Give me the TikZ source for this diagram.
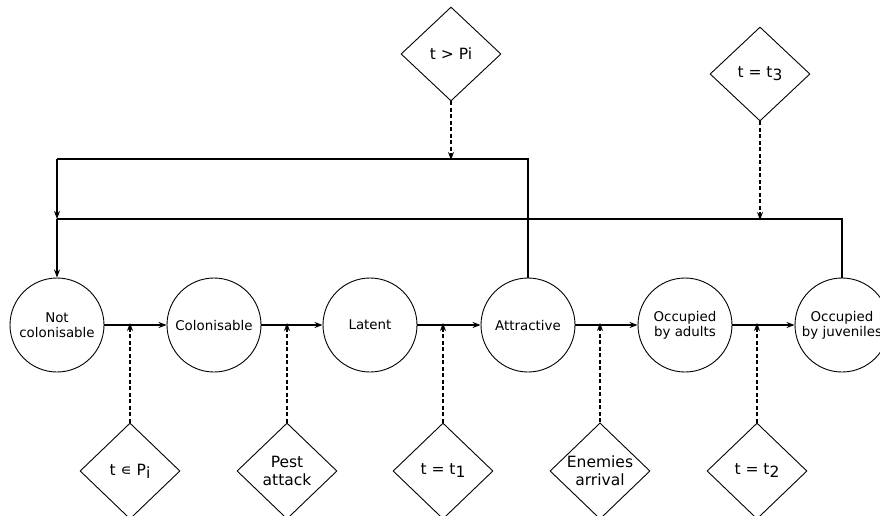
\documentclass[tikz,border=0pt]{standalone}
\usepackage{fontspec}
\setmainfont{DejaVu Sans}
\usetikzlibrary{shapes.geometric,arrows.meta}
\newcommand{\lowsub}[1]{\raisebox{-0.35ex}{#1}}
\begin{document}
\begin{tikzpicture}[x=1pt,y=-1pt,
  state/.style={circle,draw,line width=0.9pt,minimum size=94pt,inner sep=0pt,align=center,font=\fontsize{13.4}{15}\selectfont},
  cond/.style={diamond,draw,line width=0.9pt,minimum width=100pt,minimum height=96pt,inner sep=0pt,align=center,font=\fontsize{15.5}{18}\selectfont},
  flow/.style={line width=2pt,-{Stealth[length=8pt,width=6pt]}},
  line/.style={line width=2pt},
  trig/.style={line width=2.2pt,dash pattern=on 4pt off 2.5pt,-{Stealth[length=8pt,width=6pt]}}]
\useasboundingbox (0,0) rectangle (880,515);
\node[state] (c1) at (57,325) {Not\\colonisable};
\node[state] (c2) at (214,325) {Colonisable};
\node[state] (c3) at (370,325) {Latent};
\node[state] (c4) at (528,325) {Attractive};
\node[state] (c5) at (685,325) {Occupied\\by adults};
\node[state] (c6) at (842,325) {Occupied\\by juveniles};
\node[cond] (d1) at (130,471) {t ∊ P\lowsub{i}};
\node[cond] (d2) at (287,471) {Pest\\attack};
\node[cond] (d3) at (443,471) {t = t\lowsub{1}};
\node[cond] (d4) at (600,471) {Enemies\\arrival};
\node[cond] (d5) at (757,471) {t = t\lowsub{2}};
\node[cond,minimum height=94pt] (dp) at (451,54) {t > Pi};
\node[cond,minimum height=94pt] (dt) at (760,74) {t = t\lowsub{3}};
\draw[flow] (c1) -- (c2);
\draw[flow] (c2) -- (c3);
\draw[flow] (c3) -- (c4);
\draw[flow] (c4) -- (c5);
\draw[flow] (c5) -- (c6);
\foreach \d/\c in {d1/c1,d2/c2,d3/c3,d4/c4,d5/c5}
  \draw[trig] (\d.north) -- ([yshift=2pt]\d.north |- \c.center);
\coordinate (t1) at (57,159);
\coordinate (t2) at (57,219);
\draw[line] (c4.north) |- (t1);
\draw[flow] (t1) -- (t2);
\draw[line] (c6.north) |- (t2);
\draw[flow] (t2) -- (c1.north);
\draw[trig] (dp.south) -- ([yshift=-1pt]dp.south |- t1);
\draw[trig] (dt.south) -- ([yshift=-1pt]dt.south |- t2);
\end{tikzpicture}
\end{document}
